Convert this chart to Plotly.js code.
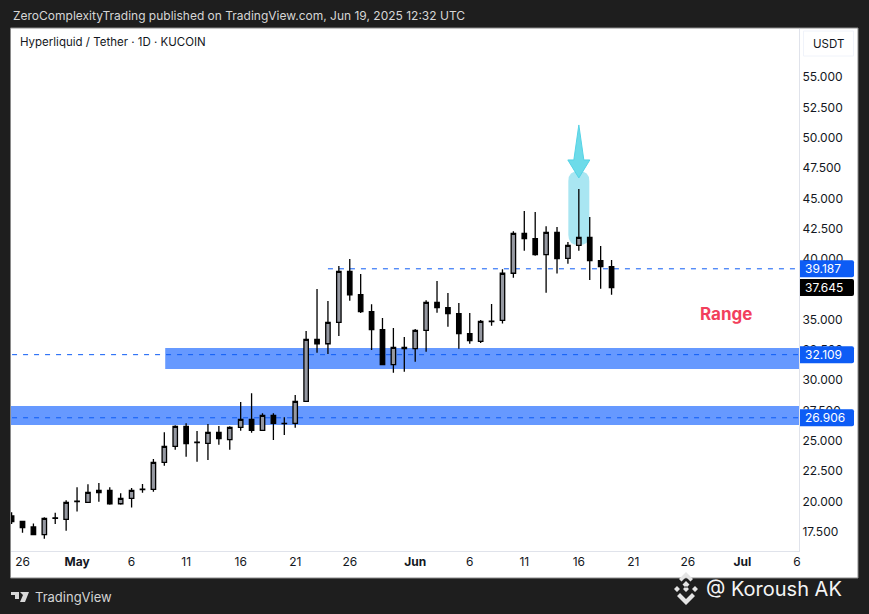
<!DOCTYPE html>
<html>
<head>
<meta charset="utf-8">
<script src="https://cdn.plot.ly/plotly-3.0.1.min.js"></script>
<style>html,body{margin:0;padding:0;background:#1e1e1e;overflow:hidden}#chart{width:869px;height:614px}</style>
</head>
<body>
<div id="chart"></div>
<script>
const dates = ["2025-04-25","2025-04-26","2025-04-27","2025-04-28","2025-04-29","2025-04-30",
"2025-05-01","2025-05-02","2025-05-03","2025-05-04","2025-05-05","2025-05-06","2025-05-07","2025-05-08","2025-05-09","2025-05-10",
"2025-05-11","2025-05-12","2025-05-13","2025-05-14","2025-05-15","2025-05-16","2025-05-17","2025-05-18","2025-05-19","2025-05-20",
"2025-05-21","2025-05-22","2025-05-23","2025-05-24","2025-05-25","2025-05-26","2025-05-27","2025-05-28","2025-05-29","2025-05-30","2025-05-31",
"2025-06-01","2025-06-02","2025-06-03","2025-06-04","2025-06-05","2025-06-06","2025-06-07","2025-06-08","2025-06-09","2025-06-10",
"2025-06-11","2025-06-12","2025-06-13","2025-06-14","2025-06-15","2025-06-16","2025-06-17","2025-06-18","2025-06-19"];
const opens = [18.81,18.37,17.90,17.27,18.62,18.53,
20.00,19.93,20.73,20.92,19.82,20.26,20.98,21.01,23.23,24.55,
26.20,24.86,24.80,25.71,25.10,26.12,26.78,25.87,27.11,26.43,
26.45,28.26,33.37,33.01,34.77,38.98,37.05,35.65,34.17,31.28,32.71,
32.60,34.11,36.42,35.98,35.49,33.84,33.20,34.84,34.94,38.82,
42.11,41.67,40.35,42.19,40.05,41.12,41.78,39.86,39.36];
const highs = [19.11,18.37,18.20,18.70,19.08,20.10,
21.17,21.42,21.53,21.17,20.68,21.12,21.45,23.51,25.71,26.28,
26.45,25.82,26.39,26.23,26.20,28.21,28.92,27.27,27.27,26.94,
28.78,34.06,37.52,36.53,39.42,39.99,38.76,36.26,35.13,34.31,33.56,
34.22,36.59,38.18,37.19,36.37,35.54,34.96,36.29,39.15,42.28,
43.95,43.87,42.69,42.63,41.40,45.77,43.46,41.07,39.91];
const lows = [18.15,17.43,17.27,16.94,18.15,17.60,
19.17,19.93,19.99,19.74,19.74,19.50,20.73,20.81,22.96,24.28,
23.70,23.29,23.42,24.69,24.28,25.84,25.68,25.87,25.07,25.49,
26.09,28.26,32.27,32.16,33.65,36.56,35.54,32.49,31.28,30.62,30.71,
31.53,32.35,35.57,34.42,32.60,33.01,33.07,34.50,34.67,38.46,
40.68,40.27,37.22,38.79,39.61,40.68,38.26,37.55,37.05];
const closes = [18.34,17.85,17.27,18.62,18.66,19.93,
20.04,20.76,20.92,19.82,20.26,20.92,21.02,23.23,24.55,26.20,
24.77,24.90,25.71,25.18,26.12,26.78,25.87,27.11,26.45,26.45,
28.26,33.37,33.01,34.77,38.98,37.05,35.65,34.17,31.28,32.71,32.60,
34.11,36.42,35.98,35.49,33.84,33.26,34.85,34.88,38.82,42.11,
41.67,40.35,42.19,40.02,41.12,41.78,39.86,39.36,37.645];

const yTicks = [17.5,20,22.5,25,27.5,30,32.5,35,37.5,40,42.5,45,47.5,50,52.5,55];
const xTickDates = ["2025-04-26","2025-05-01","2025-05-06","2025-05-11","2025-05-16","2025-05-21","2025-05-26","2025-06-01","2025-06-06","2025-06-11","2025-06-16","2025-06-21","2025-06-26","2025-07-01","2025-07-06"];
const xTickLabels = ["26","<b>May</b>","6","11","16","21","26","<b>Jun</b>","6","11","16","21","26","<b>Jul</b>","6"];

const zoneUpper = [30.93,32.66];
const zoneLower = [26.31,27.88];
const levelHigh = 39.187, levelMid = 32.109, levelLow = 26.906, lastPrice = 37.645;
const headerText = "ZeroComplexityTrading published on TradingView.com, Jun 19, 2025 12:32 UTC";
const symbolText = "Hyperliquid / Tether · 1D · KUCOIN";

const FONT = "Inter, 'Liberation Sans', sans-serif";
const ML = 11, MT = 29, PW = 788, PH = 522;
const ink = "#131722", bull = "#9598a1", bear = "#000000", blue = "#0d5cf5", band = "#6699ff";

const px = (x,y) => (x-ML)+","+((MT+PH)-y);
function pagePath(cmds){ // path given in page pixels, anchored to plot corner
  return {type:"path",xref:"paper",yref:"paper",xsizemode:"pixel",ysizemode:"pixel",xanchor:0,yanchor:0,path:cmds};
}
function poly(pts){ return "M"+pts.map(p=>px(p[0],p[1])).join("L")+"Z"; }
function priceTag(v,color){
  return {type:"path",xref:"paper",yref:"y",xsizemode:"pixel",ysizemode:"pixel",xanchor:1,yanchor:v,layer:"above",
    path:"M1,8.5L53,8.5Q55,8.5 55,6.5L55,-6.5Q55,-8.5 53,-8.5L1,-8.5Z",fillcolor:color,line:{width:0}};
}
function priceText(v){
  return {xref:"paper",yref:"y",x:1,y:v,xanchor:"left",xshift:3.5,showarrow:false,yanchor:"middle",text:v.toFixed(3),
    font:{family:FONT,size:12,color:"#ffffff"}};
}

const shapes = [
  // white panel
  {type:"rect",xref:"paper",yref:"paper",x0:-0.5/PW,x1:847/PW,y0:-27/PH,y1:1+1/PH,fillcolor:"#ffffff",line:{color:"#8a8a8a",width:1},layer:"below"},
  // USDT button
  {type:"rect",xref:"paper",yref:"paper",x0:792.5/PW,x1:842.5/PW,y0:(PH-27)/PH,y1:(PH-2)/PH,fillcolor:"#ffffff",line:{color:"#f0f3fa",width:1},layer:"above"},
  // zones
  {type:"rect",xref:"x",yref:"y",x0:"2025-05-09 02:00",x1:"2025-07-08",y0:zoneUpper[0],y1:zoneUpper[1],fillcolor:band,line:{width:0},layer:"below"},
  {type:"rect",xref:"x",yref:"y",x0:"2025-04-20",x1:"2025-07-08",y0:zoneLower[0],y1:zoneLower[1],fillcolor:band,line:{width:0},layer:"below"},
  // levels
  {type:"line",xref:"x",yref:"y",x0:"2025-05-24",x1:"2025-07-08",y0:levelHigh,y1:levelHigh,line:{color:blue,width:1,dash:"5px,6px"},layer:"below"},
  {type:"line",xref:"x",yref:"y",x0:"2025-04-20",x1:"2025-07-08",y0:levelMid,y1:levelMid,line:{color:blue,width:1,dash:"5px,6px"},layer:"below"},
  {type:"line",xref:"x",yref:"y",x0:"2025-04-20",x1:"2025-07-08",y0:levelLow,y1:levelLow,line:{color:blue,width:1,dash:"5px,6px"},layer:"below"},
  // highlight capsule behind the 16 Jun candle
  {type:"path",xref:"x",yref:"y",xsizemode:"pixel",ysizemode:"pixel",xanchor:"2025-06-16",yanchor:45.77,layer:"below",
    path:"M-10.5,8L-10.5,-46Q-10.5,-56 0,-56Q10.5,-56 10.5,-46L10.5,8Q10.5,18 0,18Q-10.5,18 -10.5,8Z",fillcolor:"#a9e6f2",line:{width:0}},
  // arrow
  {type:"path",xref:"x",yref:"y",xsizemode:"pixel",ysizemode:"pixel",xanchor:"2025-06-16",yanchor:45.77,layer:"above",
    path:"M0,64L5,29L11,29L0,11L-11,29L-5,29Z",fillcolor:"#6ddbe9",line:{color:"#55d3e6",width:1}},
  priceTag(levelHigh,blue),priceTag(lastPrice,"#000000"),priceTag(levelMid,blue),priceTag(levelLow,blue),
  // TradingView logo
  Object.assign(pagePath(poly([[11,592],[19,592],[19,599],[15,599],[15,595],[11,595]])+poly([[20,592],[29,592],[25,602],[20,602],[23,595]])),{fillcolor:"#d8d8d8",line:{width:0},layer:"above"}),
  // exchange mark
  Object.assign(pagePath(
    poly([[686,581],[689.5,584.5],[686,588],[682.5,584.5]])+
    poly([[677,586],[680,589],[677,592],[674,589]])+
    poly([[695,586],[698,589],[695,592],[692,589]])+
    poly([[686,586],[689,589],[686,592],[683,589]])+
    poly([[680,593],[686,599],[692,593],[695,596],[686,605],[677,596]])+
    poly([[679,579],[686,572],[693,579],[690.5,581.5],[686,577],[681.5,581.5]])
  ),{fillcolor:"#e4e4e4",line:{width:0},layer:"above"})
];

const annotations = [
  {xref:"paper",yref:"paper",x:0,xshift:0,y:1,yshift:14,xanchor:"left",yanchor:"middle",showarrow:false,text:headerText,font:{family:FONT,size:12,color:"#d6d6d6"}},
  {xref:"paper",yref:"paper",x:7/PW,y:(PH-13)/PH,xanchor:"left",yanchor:"middle",showarrow:false,text:symbolText,font:{family:FONT,size:11.5,color:ink}},
  {xref:"paper",yref:"paper",x:817.5/PW,y:(PH-14.5)/PH,xanchor:"center",yanchor:"middle",showarrow:false,text:"USDT",font:{family:FONT,size:11.5,color:ink}},
  {xref:"x",yref:"y",x:"2025-06-29 12:00",y:35.5,xanchor:"center",yanchor:"middle",showarrow:false,text:"<b>Range</b>",font:{family:FONT,size:17,color:"#f23f5c"}},
  priceText(levelHigh),priceText(lastPrice),priceText(levelMid),priceText(levelLow),
  {xref:"paper",yref:"paper",x:22/PW,y:-46/PH,xanchor:"left",yanchor:"middle",showarrow:false,text:"TradingView",font:{family:FONT,size:13,color:"#d4d4d4"}},
  {xref:"paper",yref:"paper",x:693/PW,y:-38/PH,xanchor:"left",yanchor:"middle",showarrow:false,text:"@ Koroush AK",font:{family:FONT,size:20,color:"#f4f4f4"}}
];

Plotly.newPlot("chart",[{
  type:"candlestick",x:dates,open:opens,high:highs,low:lows,close:closes,
  increasing:{line:{color:"#000000",width:1.3},fillcolor:bull},
  decreasing:{line:{color:"#000000",width:1.3},fillcolor:bear},
  whiskerwidth:0,hoverinfo:"skip"
}],{
  width:869,height:614,
  margin:{l:ML,r:70,t:MT,b:63,pad:0},
  paper_bgcolor:"#1e1e1e",plot_bgcolor:"#ffffff",
  showlegend:false,boxgap:0.42,
  font:{family:FONT,size:12,color:ink},
  xaxis:{type:"date",range:["2025-04-24 22:41","2025-07-06 04:24"],rangeslider:{visible:false},tickmode:"array",tickvals:xTickDates,ticktext:xTickLabels,
    showgrid:false,zeroline:false,showline:true,linecolor:"#e0e3eb",linewidth:1,ticks:"",tickangle:0,tickfont:{family:FONT,size:12,color:ink},ticklabeloverflow:"allow"},
  yaxis:{side:"right",range:[15.923,58.957],tickmode:"array",tickvals:yTicks,tickformat:".3f",showgrid:false,zeroline:false,showline:true,linecolor:"#e0e3eb",linewidth:1,ticks:"",tickfont:{family:FONT,size:12,color:ink}},
  shapes:shapes,annotations:annotations
},{displayModeBar:false,staticPlot:true});
</script>
</body>
</html>
